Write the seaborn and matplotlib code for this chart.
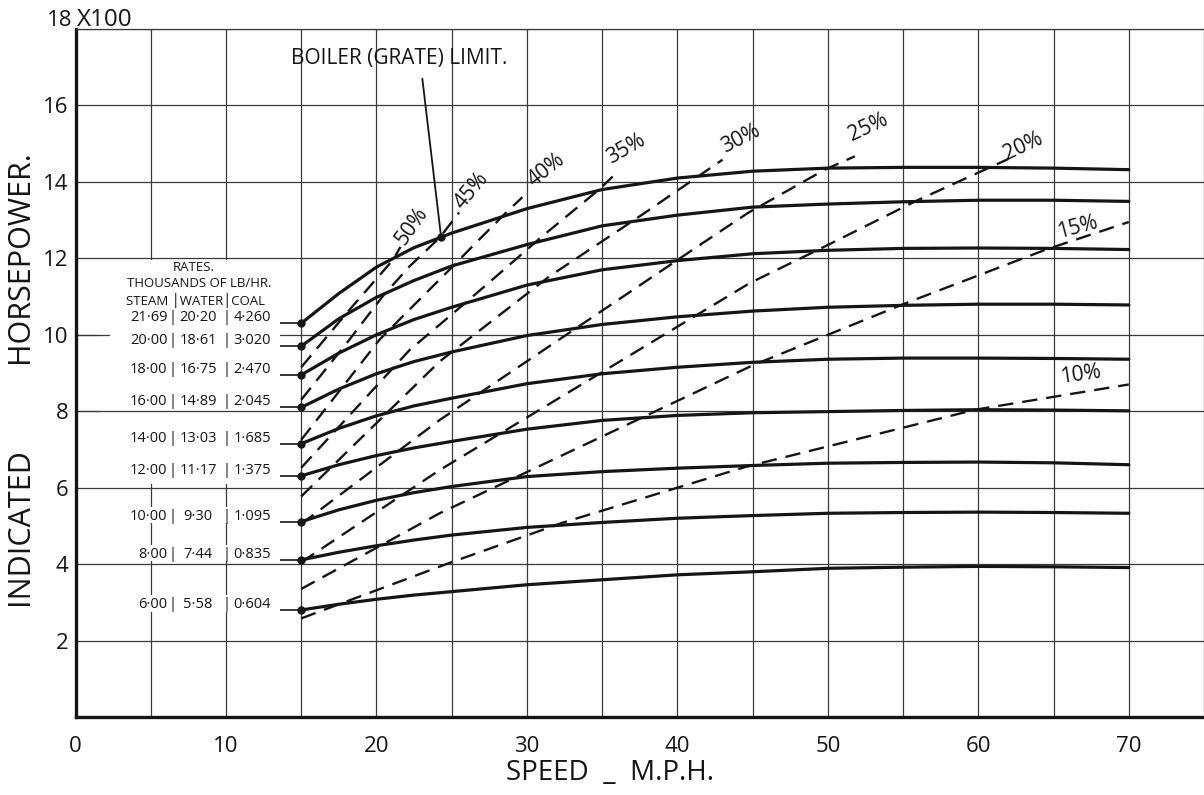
import numpy as np
import pandas as pd
import matplotlib
matplotlib.use("Agg")
import matplotlib.pyplot as plt
import seaborn as sns
from matplotlib.patches import Rectangle

# ---------------------------------------------------------------- data
speed = [15, 17.5, 20, 22.5, 25, 30, 35, 40, 45, 50, 55, 60, 65, 70]

# firing rates, thousands of lb/hr
steam = ["21·69", "20·00", "18·00", "16·00", "14·00", "12·00", "10·00", "8·00", "6·00"]
water = ["20·20", "18·61", "16·75", "14·89", "13·03", "11·17", "9·30", "7·44", "5·58"]
coal = ["4·260", "3·020", "2·470", "2·045", "1·685", "1·375", "1·095", "0·835", "0·604"]

# indicated horsepower (x100) for each steam rate
ihp_2169 = [10.3, 11.08, 11.77, 12.28, 12.66, 13.3, 13.8, 14.1, 14.28, 14.36, 14.38, 14.38, 14.36, 14.32]
ihp_2000 = [9.7, 10.42, 10.98, 11.42, 11.8, 12.36, 12.85, 13.13, 13.34, 13.42, 13.48, 13.52, 13.52, 13.49]
ihp_1800 = [8.95, 9.52, 10.0, 10.4, 10.72, 11.3, 11.7, 11.94, 12.12, 12.21, 12.26, 12.27, 12.26, 12.23]
ihp_1600 = [8.1, 8.58, 8.98, 9.3, 9.55, 9.98, 10.27, 10.47, 10.62, 10.72, 10.77, 10.8, 10.8, 10.78]
ihp_1400 = [7.15, 7.55, 7.88, 8.14, 8.34, 8.72, 8.98, 9.15, 9.28, 9.36, 9.39, 9.39, 9.38, 9.36]
ihp_1200 = [6.31, 6.6, 6.84, 7.04, 7.21, 7.53, 7.76, 7.89, 7.96, 7.99, 8.02, 8.04, 8.03, 8.01]
ihp_1000 = [5.11, 5.42, 5.67, 5.87, 6.03, 6.29, 6.42, 6.51, 6.58, 6.64, 6.66, 6.67, 6.65, 6.6]
ihp_800 = [4.11, 4.31, 4.48, 4.63, 4.76, 4.96, 5.09, 5.2, 5.27, 5.33, 5.35, 5.36, 5.35, 5.33]
ihp_600 = [2.8, 2.95, 3.08, 3.19, 3.28, 3.46, 3.59, 3.72, 3.8, 3.89, 3.92, 3.94, 3.93, 3.91]
ihp_curves = [ihp_2169, ihp_2000, ihp_1800, ihp_1600, ihp_1400,
              ihp_1200, ihp_1000, ihp_800, ihp_600]

# lines of constant efficiency (speed, ihp x100)
eff_labels = ["50%", "45%", "40%", "35%", "30%", "25%", "20%", "15%", "10%"]
eff50_x = [15, 18.2, 21.1, 21.6]
eff50_y = [9.15, 10.65, 11.96, 12.3]
eff45_x = [15, 18.2, 20.4, 22.2, 24.2, 25.5]
eff45_y = [8.3, 9.87, 11.0, 11.79, 12.54, 13.2]
eff40_x = [15, 20.2, 22.4, 24.85, 26.6, 28.6, 29.7]
eff40_y = [7.25, 9.87, 10.74, 11.7, 12.4, 13.19, 13.6]
eff35_x = [15, 22.2, 24.85, 27.7, 31.0, 34.8, 35.7]
eff35_y = [6.52, 9.6, 10.48, 11.44, 12.57, 13.8, 14.14]
eff30_x = [15, 24.2, 31.5, 37.5, 43.0]
eff30_y = [5.77, 9.3, 11.53, 13.1, 14.58]
eff25_x = [15, 24.2, 41.0, 44.7, 49.8, 51.8]
eff25_y = [5.05, 7.77, 12.22, 13.19, 14.32, 14.67]
eff20_x = [15, 24.2, 44.8, 49.8, 55.8, 62.0]
eff20_y = [4.05, 6.46, 11.35, 12.31, 13.49, 14.6]
eff15_x = [15, 24.2, 45, 55.2, 64.5, 70]
eff15_y = [3.35, 5.33, 9.2, 10.83, 12.23, 12.95]
eff10_x = [15, 24.85, 32.35, 44.5, 59.8, 70]
eff10_y = [2.58, 4.03, 5.08, 6.54, 8.04, 8.7]
eff_x = [eff50_x, eff45_x, eff40_x, eff35_x, eff30_x, eff25_x, eff20_x, eff15_x, eff10_x]
eff_y = [eff50_y, eff45_y, eff40_y, eff35_y, eff30_y, eff25_y, eff20_y, eff15_y, eff10_y]

# boiler (grate) limit point
limit_speed, limit_ihp = 24.3, 12.55

x_ticks = [0, 10, 20, 30, 40, 50, 60, 70]
y_ticks = [2, 4, 6, 8, 10, 12, 14, 16, 18]

# ---------------------------------------------------------------- style
sns.set_theme(style="white")
plt.rcParams["font.family"] = ["Open Sans", "DejaVu Sans"]
INK = "#151515"
GRID = "#3a3a3a"

W, H = 1204, 795
fig = plt.figure(figsize=(W / 100, H / 100), dpi=100, facecolor="white")
ax = fig.add_axes([75.5 / W, 1 - 717 / H, 1 - 75.5 / W, (717 - 29) / H])
ax.set_facecolor("white")
ax.set_xlim(0, 74.9)
ax.set_ylim(0, 18)

# grid: every 5 mph, every 200 hp
ax.set_xticks(x_ticks)
ax.set_xticks(np.arange(5, 76, 5), minor=True)
ax.set_yticks(y_ticks)
ax.set_axisbelow(True)
ax.grid(which="both", axis="x", color=GRID, lw=0.9)
ax.grid(which="major", axis="y", color=GRID, lw=0.9)
ax.tick_params(which="both", length=0)
ax.tick_params(axis="x", labelsize=16, pad=14, colors=INK)
ax.tick_params(axis="y", labelsize=16, pad=5, colors=INK)
ax.set_xticklabels([str(v) for v in x_ticks])
# the top value carries the scale factor, written separately below
ax.set_yticklabels([str(v) if v != 18 else "" for v in y_ticks])

ax.spines["right"].set_visible(False)
ax.spines["top"].set_color(GRID)
ax.spines["top"].set_linewidth(0.9)
for side in ("left", "bottom"):
    ax.spines[side].set_color(INK)
    ax.spines[side].set_linewidth(2.4)

# plain panel behind the rates table
ax.add_patch(Rectangle((1.6, 6.1), 12.7, 5.85, facecolor="white",
                       edgecolor="none", zorder=1.2))
ax.hlines([8, 10], 0, 14.3, color=GRID, lw=0.9, zorder=1.3)

# ---------------------------------------------------------------- curves
rows = []
for s, ihp in zip(steam, ihp_curves):
    for v, h in zip(speed, ihp):
        rows.append({"steam": s, "speed": v, "ihp": h})
df = pd.DataFrame(rows)
sns.lineplot(data=df, x="speed", y="ihp", units="steam", estimator=None,
             sort=False, color=INK, lw=2.3, ax=ax, zorder=4)

erows = []
for lab, xs, ys in zip(eff_labels, eff_x, eff_y):
    for v, h in zip(xs, ys):
        erows.append({"eff": lab, "speed": v, "ihp": h})
edf = pd.DataFrame(erows)
sns.lineplot(data=edf, x="speed", y="ihp", units="eff", estimator=None,
             sort=False, color=INK, lw=1.7, linestyle=(0, (6.5, 3.8)),
             ax=ax, zorder=3)
ax.set_xlabel("")
ax.set_ylabel("")

# efficiency labels
eff_label_pos = {
    "50%": (22.35, 12.85, 55), "45%": (26.3, 13.78, 50), "40%": (31.3, 14.3, 38),
    "35%": (36.6, 14.87, 30), "30%": (44.2, 15.12, 27), "25%": (52.7, 15.42, 25),
    "20%": (63.0, 14.92, 25), "15%": (66.6, 12.8, 15), "10%": (66.8, 8.95, 8),
}
for lab in eff_labels:
    px, py, rot = eff_label_pos[lab]
    ax.text(px, py, lab, fontsize=15, color=INK, rotation=rot,
            rotation_mode="anchor", ha="center", va="center", zorder=5)

# rates table
hdr = dict(ha="center", va="center", fontsize=9.5, color=INK, zorder=5)
ax.text(7.85, 11.76, "RATES.", **hdr)
ax.text(8.25, 11.33, "THOUSANDS OF LB/HR.", **hdr)
ax.text(7.95, 10.9, "STEAM │WATER│COAL", **hdr)

tbl = dict(fontsize=10.5, color=INK, zorder=5, va="baseline")
for s, w, c, ihp in zip(steam, water, coal, ihp_curves):
    y0 = ihp[0] + 0.05
    row_box = Rectangle((2.3, ihp[0] - 0.04), 11.3, 0.42, facecolor="white",
                        edgecolor="none", zorder=4.5)
    ax.add_patch(row_box)
    ax.text(6.1, y0, s, ha="right", **tbl)
    ax.text(6.45, y0, "|", ha="center", **tbl)
    ax.text(8.15, y0, w, ha="center", **tbl)
    ax.text(10.05, y0, "|", ha="center", **tbl)
    ax.text(10.5, y0, c, ha="left", **tbl)
    ax.plot([13.6, 15], [ihp[0], ihp[0]], color=INK, lw=1.2, zorder=4)
    ax.plot([15], [ihp[0]], "o", color=INK, ms=5, zorder=6)

# boiler limit
ax.plot([limit_speed], [limit_ihp], "o", color=INK, ms=5, zorder=6)
ax.plot([23.05, limit_speed], [16.7, limit_ihp], color=INK, lw=1.3, zorder=5)
ax.text(21.5, 17.22, "BOILER (GRATE) LIMIT.", ha="center", va="center",
        fontsize=15, color=INK, zorder=5)

# top y value with its scale factor
fig.text(72 / W, 1 - 20 / H, "18", ha="right", va="center", fontsize=16, color=INK)
fig.text(77 / W, 1 - 20 / H, "X100", ha="left", va="center", fontsize=17.5, color=INK)

# axis titles
fig.text(20 / W, 1 - 527 / H, "INDICATED", rotation=90,
         ha="center", va="center", fontsize=22, color=INK)
fig.text(20 / W, 1 - 257 / H, "HORSEPOWER.", rotation=90,
         ha="center", va="center", fontsize=22, color=INK)
fig.text(610 / W, 1 - 773 / H, "SPEED  _  M.P.H.", ha="center", va="center",
         fontsize=20, color=INK)

fig.savefig("out.png", dpi=100, facecolor="white")
